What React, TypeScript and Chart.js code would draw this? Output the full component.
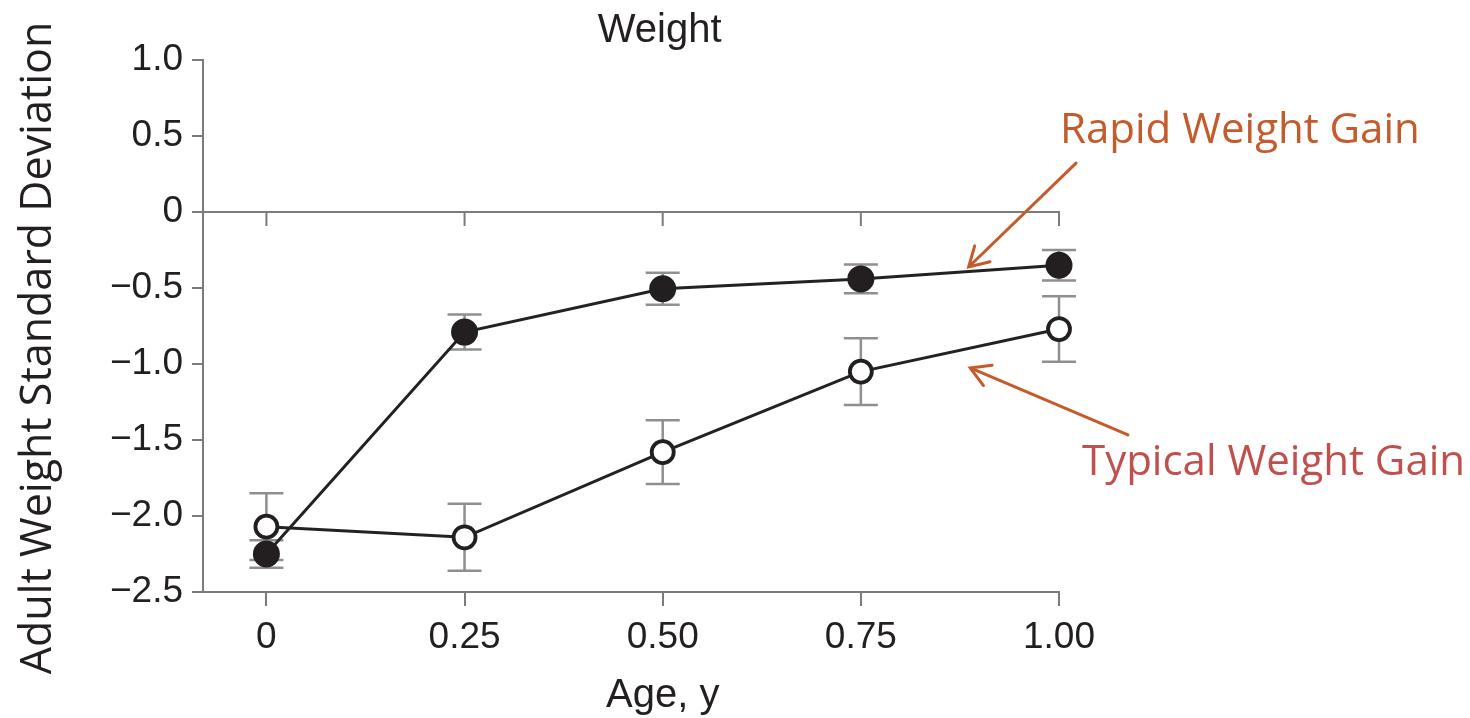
import React, { useEffect, useRef } from "react";
import { Chart, registerables } from "chart.js";

Chart.register(...registerables);

// ---- data ----
const ages = [0, 0.25, 0.5, 0.75, 1.0];
const xTickValues = [0, 0.25, 0.5, 0.75, 1.0];
const xTickLabels = ["0", "0.25", "0.50", "0.75", "1.00"];
const yTickValues = [1.0, 0.5, 0, -0.5, -1.0, -1.5, -2.0, -2.5];
const yTickLabels = ["1.0", "0.5", "0", "\u22120.5", "\u22121.0", "\u22121.5", "\u22122.0", "\u22122.5"];
const rapidMeans = [-2.25, -0.79, -0.505, -0.44, -0.35];
const rapidErrors = [0.09, 0.115, 0.105, 0.095, 0.1];
const typicalMeans = [-2.07, -2.14, -1.58, -1.05, -0.77];
const typicalErrors = [0.22, 0.22, 0.21, 0.22, 0.215];

const chartTitle = "Weight";
const xTitle = "Age, y";
const yTitle = "Adult Weight Standard Deviation";
const rapidLabel = "Rapid Weight Gain";
const typicalLabel = "Typical Weight Gain";

const AXIS_COLOR = "#7b7b7b";
const ERR_COLOR = "#8f8f8f";
const TEXT_COLOR = "#231f20";
const ORANGE = "#C55A2B";
const RED = "#C0504D";

const errorBarPlugin = {
  id: "errorBars",
  beforeDatasetsDraw(chart: any) {
    const ctx = chart.ctx;
    const yScale = chart.scales.y;
    ctx.save();
    ctx.strokeStyle = ERR_COLOR;
    ctx.lineWidth = 2.5;
    chart.data.datasets.forEach((ds: any, i: number) => {
      const meta = chart.getDatasetMeta(i);
      meta.data.forEach((pt: any, j: number) => {
        const m = ds.data[j].y;
        const e = ds.errors[j];
        const yTop = yScale.getPixelForValue(m + e);
        const yBot = yScale.getPixelForValue(m - e);
        const x = pt.x;
        const half = 17;
        ctx.beginPath();
        ctx.moveTo(x, yTop);
        ctx.lineTo(x, yBot);
        ctx.moveTo(x - half, yTop);
        ctx.lineTo(x + half, yTop);
        ctx.moveTo(x - half, yBot);
        ctx.lineTo(x + half, yBot);
        ctx.stroke();
      });
    });
    ctx.restore();
  },
};

const zeroLinePlugin = {
  id: "zeroLine",
  beforeDatasetsDraw(chart: any) {
    const ctx = chart.ctx;
    const { left, right } = chart.chartArea;
    const y0 = chart.scales.y.getPixelForValue(0);
    ctx.save();
    ctx.strokeStyle = AXIS_COLOR;
    ctx.lineWidth = 2;
    ctx.beginPath();
    ctx.moveTo(left, y0);
    ctx.lineTo(right + 1, y0);
    xTickValues.forEach((v) => {
      const x = chart.scales.x.getPixelForValue(v);
      ctx.moveTo(x, y0);
      ctx.lineTo(x, y0 + 14);
    });
    ctx.stroke();
    ctx.restore();
  },
};

function drawArrow(ctx: any, x1: number, y1: number, x2: number, y2: number) {
  const ang = Math.atan2(y1 - y2, x1 - x2);
  const len = 22;
  const spread = Math.PI / 6;
  ctx.beginPath();
  ctx.moveTo(x1, y1);
  ctx.lineTo(x2, y2);
  ctx.moveTo(x2 + len * Math.cos(ang + spread), y2 + len * Math.sin(ang + spread));
  ctx.lineTo(x2, y2);
  ctx.lineTo(x2 + len * Math.cos(ang - spread), y2 + len * Math.sin(ang - spread));
  ctx.stroke();
}

const textPlugin = {
  id: "texts",
  afterDraw(chart: any) {
    const ctx = chart.ctx;
    const xs = chart.scales.x;
    const ys = chart.scales.y;
    const px = (v: number) => xs.getPixelForValue(v);
    const py = (v: number) => ys.getPixelForValue(v);
    ctx.save();
    // title
    ctx.fillStyle = TEXT_COLOR;
    ctx.font = '40px "Liberation Sans", Arial, sans-serif';
    ctx.textAlign = "center";
    ctx.textBaseline = "alphabetic";
    ctx.fillText(chartTitle, px(0.5) - 3, 42);
    // x title
    ctx.fillText(xTitle, px(0.5), 707);
    // y title
    ctx.save();
    ctx.font = '43px "Open Sans", sans-serif';
    ctx.translate(51, 348);
    ctx.rotate(-Math.PI / 2);
    ctx.fillText(yTitle, 0, 0);
    ctx.restore();
    // annotations
    ctx.font = '42px "Open Sans", sans-serif';
    ctx.textAlign = "left";
    ctx.fillStyle = ORANGE;
    ctx.fillText(rapidLabel, px(1.0) + 1, 143);
    ctx.fillStyle = RED;
    ctx.fillText(typicalLabel, px(1.0) + 23, 475);
    ctx.strokeStyle = ORANGE;
    ctx.lineWidth = 3;
    ctx.lineCap = "round";
    drawArrow(ctx, px(1.0215), py(0.322), px(0.886), py(-0.362));
    drawArrow(ctx, px(1.087), py(-1.467), px(0.888), py(-1.026));
    ctx.restore();
  },
};

export default function App() {
  const canvasRef = useRef<HTMLCanvasElement | null>(null);

  useEffect(() => {
    document.body.style.margin = "0";
    const canvas = canvasRef.current;
    if (!canvas) return;
    const chart = new Chart(canvas, {
      type: "line",
      data: {
        datasets: [
          {
            label: typicalLabel,
            data: ages.map((a, i) => ({ x: a, y: typicalMeans[i] })),
            errors: typicalErrors,
            borderColor: "#222222",
            borderWidth: 3,
            pointRadius: 11,
            pointBorderWidth: 3.8,
            pointBackgroundColor: "#ffffff",
            pointBorderColor: "#231f20",
            clip: false,
            tension: 0,
          } as any,
          {
            label: rapidLabel,
            data: ages.map((a, i) => ({ x: a, y: rapidMeans[i] })),
            errors: rapidErrors,
            borderColor: "#222222",
            borderWidth: 3,
            pointRadius: 12.5,
            pointBorderWidth: 2,
            pointBackgroundColor: "#231f20",
            pointBorderColor: "#231f20",
            clip: false,
            tension: 0,
          } as any,
        ],
      },
      options: {
        animation: false,
        responsive: false,
        events: [],
        layout: { padding: { top: 60, right: 411, left: 0, bottom: 0 } },
        plugins: {
          legend: { display: false },
          tooltip: { enabled: false },
          title: { display: false },
        },
        scales: {
          x: {
            type: "linear",
            min: -0.08,
            max: 1.0,
            afterFit: (s: any) => {
              s.height = 126;
            },
            afterBuildTicks: (s: any) => {
              s.ticks = xTickValues.map((v) => ({ value: v }));
            },
            ticks: {
              autoSkip: false,
              maxRotation: 0,
              padding: 10,
              color: TEXT_COLOR,
              font: { family: '"Liberation Sans", Arial, sans-serif', size: 37 },
              callback: (v: any) => {
                const i = xTickValues.indexOf(Number(v));
                return i >= 0 ? xTickLabels[i] : "";
              },
            },
            grid: {
              drawOnChartArea: false,
              drawTicks: true,
              tickLength: 14,
              color: AXIS_COLOR,
              lineWidth: 2,
            },
            border: { display: true, color: AXIS_COLOR, width: 2 },
          },
          y: {
            type: "linear",
            min: -2.5,
            max: 1.0,
            afterFit: (s: any) => {
              s.width = 203;
            },
            afterBuildTicks: (s: any) => {
              s.ticks = yTickValues.map((v) => ({ value: v }));
            },
            ticks: {
              autoSkip: false,
              padding: 9,
              color: TEXT_COLOR,
              font: { family: '"Liberation Sans", Arial, sans-serif', size: 37 },
              callback: (v: any) => {
                const i = yTickValues.indexOf(Number(v));
                return i >= 0 ? yTickLabels[i] : "";
              },
            },
            grid: {
              drawOnChartArea: false,
              drawTicks: true,
              tickLength: 11,
              color: AXIS_COLOR,
              lineWidth: 2,
            },
            border: { display: true, color: AXIS_COLOR, width: 2 },
          },
        },
      } as any,
      plugins: [errorBarPlugin, zeroLinePlugin, textPlugin],
    });
    return () => chart.destroy();
  }, []);

  return (
    <div style={{ position: "fixed", left: 0, top: 0, width: 1470, height: 718, background: "#ffffff" }}>
      <canvas ref={canvasRef} width={1470} height={718} style={{ width: 1470, height: 718, display: "block" }} />
    </div>
  );
}
